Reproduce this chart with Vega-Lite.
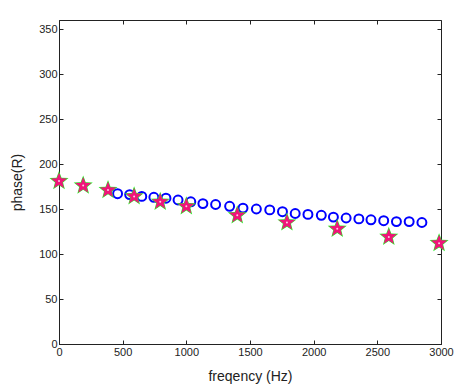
{
  "$schema": "https://vega.github.io/schema/vega-lite/v6.json",
  "width": 382,
  "height": 324,
  "autosize": {"type": "none"},
  "padding": {"left": 59, "top": 20, "right": 13, "bottom": 45},
  "background": "white",
  "config": {
    "view": {"stroke": "#222", "strokeWidth": 1},
    "font": "Liberation Sans",
    "axis": {"grid": false, "domainColor": "#222", "tickColor": "#222", "labelColor": "#222", "titleColor": "#222", "labelFont": "Liberation Sans", "titleFont": "Liberation Sans", "labelFontSize": 11, "titleFontSize": 14, "titleFontWeight": "normal", "tickSize": -4, "domainWidth": 1}
  },
  "datasets": {
    "circles": [
      {"f": 460, "p": 167}, {"f": 555, "p": 166}, {"f": 650, "p": 164}, {"f": 745, "p": 163}, {"f": 840, "p": 162},
      {"f": 935, "p": 160}, {"f": 1035, "p": 158}, {"f": 1130, "p": 156}, {"f": 1230, "p": 155}, {"f": 1340, "p": 153},
      {"f": 1445, "p": 151}, {"f": 1550, "p": 150}, {"f": 1655, "p": 149}, {"f": 1755, "p": 147}, {"f": 1855, "p": 145},
      {"f": 1955, "p": 144}, {"f": 2060, "p": 143}, {"f": 2155, "p": 141}, {"f": 2255, "p": 140}, {"f": 2355, "p": 139},
      {"f": 2450, "p": 138}, {"f": 2550, "p": 137}, {"f": 2650, "p": 136}, {"f": 2750, "p": 136}, {"f": 2850, "p": 135}
    ],
    "stars": [
      {"f": 0, "p": 181}, {"f": 190, "p": 176}, {"f": 385, "p": 171}, {"f": 590, "p": 164}, {"f": 795, "p": 158},
      {"f": 1000, "p": 153}, {"f": 1400, "p": 143}, {"f": 1790, "p": 135}, {"f": 2185, "p": 128}, {"f": 2590, "p": 119},
      {"f": 2985, "p": 112}
    ]
  },
  "layer": [
    {
      "data": {"name": "circles"},
      "mark": {"type": "point", "shape": "circle", "filled": false, "color": "#0000ff", "opacity": 1, "strokeWidth": 2, "size": 80},
      "encoding": {
        "x": {"field": "f", "type": "quantitative", "scale": {"domain": [0, 3000], "nice": false}, "axis": {"values": [0, 500, 1000, 1500, 2000, 2500, 3000], "format": "d", "title": "freqency (Hz)", "labelPadding": 6, "titlePadding": 12, "labelFlush": false}},
        "y": {"field": "p", "type": "quantitative", "scale": {"domain": [0, 360], "nice": false}, "axis": {"values": [0, 50, 100, 150, 200, 250, 300, 350], "format": "d", "title": "phase(R)", "labelPadding": 6, "titlePadding": 14}}
      }
    },
    {
      "data": {"name": "stars"},
      "mark": {"type": "point", "shape": "M0,-1.2L0.3,-0.4L1.14,-0.37L0.48,0.16L0.7,0.97L0,0.5L-0.7,0.97L-0.48,0.16L-1.14,-0.37L-0.3,-0.4Z", "filled": true, "color": "#22ee22", "opacity": 1, "size": 280},
      "encoding": {
        "x": {"field": "f", "type": "quantitative", "axis": null},
        "y": {"field": "p", "type": "quantitative", "axis": null}
      }
    },
    {
      "data": {"name": "stars"},
      "mark": {"type": "point", "shape": "M0,-1.2L0.3,-0.4L1.14,-0.37L0.48,0.16L0.7,0.97L0,0.5L-0.7,0.97L-0.48,0.16L-1.14,-0.37L-0.3,-0.4Z", "filled": true, "color": "#f0147a", "opacity": 1, "size": 200},
      "encoding": {
        "x": {"field": "f", "type": "quantitative", "axis": null},
        "y": {"field": "p", "type": "quantitative", "axis": null}
      }
    },
    {
      "data": {"name": "stars"},
      "mark": {"type": "point", "shape": "circle", "filled": true, "color": "#ffffff", "opacity": 0.8, "size": 4},
      "encoding": {
        "x": {"field": "f", "type": "quantitative", "axis": {"orient": "top", "labels": false, "title": null, "values": [0, 500, 1000, 1500, 2000, 2500, 3000], "domain": false}},
        "y": {"field": "p", "type": "quantitative", "axis": {"orient": "right", "labels": false, "title": null, "values": [0, 50, 100, 150, 200, 250, 300, 350], "domain": false}}
      }
    }
  ],
  "resolve": {"axis": {"x": "independent", "y": "independent"}}
}
